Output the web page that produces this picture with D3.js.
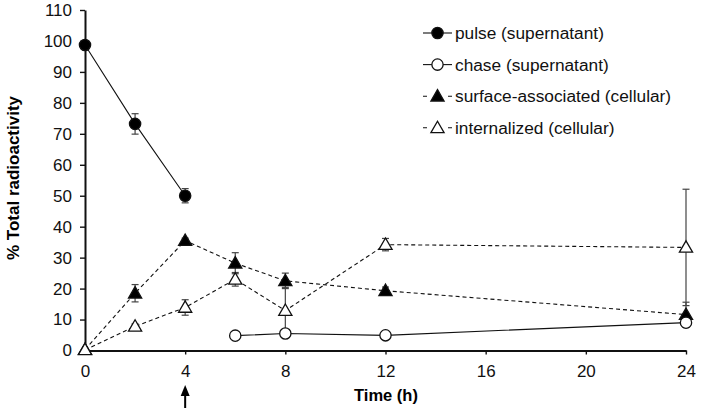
<!DOCTYPE html>
<html><head><meta charset="utf-8">
<script src="https://cdn.jsdelivr.net/npm/d3@7"></script>
<style>
body{margin:0;background:#fff;}
text{font-family:"Liberation Sans",Arial,sans-serif;}
</style></head>
<body><svg id="c" width="701" height="411"></svg>
<script>
const xTicks = [0,4,8,12,16,20,24];
const yTicks = [0,10,20,30,40,50,60,70,80,90,100,110];

const pulseT = [0,2,4];
const pulseV = [98.7,73.2,50.0];
const pulseErr = [1.0,3.3,2.3];

const chaseT = [6,8,12,24];
const chaseV = [4.8,5.5,4.9,9.0];
const chaseErr = [0.5,0.8,0.5,1.5];

const surfT = [0,2,4,6,8,12,24];
const surfV = [0.3,18.5,35.5,28.2,22.5,19.3,11.6];
const surfErr = [0.3,2.8,0.8,3.4,2.5,1.2,4.0];

const intT = [0,2,4,6,8,12,24];
const intV = [0.2,7.8,13.9,23.0,12.9,34.2,33.3];
const intErr = [0.3,0.8,2.5,2.2,7.5,2.0,18.8];

const legendLabels = ["pulse (supernatant)","chase (supernatant)","surface-associated (cellular)","internalized (cellular)"];

const svg = d3.select("#c");
const x = d3.scaleLinear().domain([0,24]).range([85,686]);
const y = d3.scaleLinear().domain([0,110]).range([350.5,10]);

const series = [
  {t:surfT,v:surfV,e:surfErr,shape:"tri",fill:"#000",dash:"4,3"},
  {t:intT,v:intV,e:intErr,shape:"tri",fill:"#fff",dash:"4,3"},
  {t:chaseT,v:chaseV,e:chaseErr,shape:"circ",fill:"#fff",dash:null},
  {t:pulseT,v:pulseV,e:pulseErr,shape:"circ",fill:"#000",dash:null}
];

// axes
const yAxis = d3.axisLeft(y).tickValues(yTicks).tickSize(5).tickSizeOuter(0).tickPadding(8);
const xAxis = d3.axisBottom(x).tickValues(xTicks).tickSize(4).tickSizeOuter(0).tickPadding(10);
const ga = svg.append("g").attr("transform","translate(85,0)").call(yAxis);
const gx = svg.append("g").attr("transform","translate(0,350.5)").call(xAxis);
[ga,gx].forEach(g=>{
  g.select(".domain").attr("stroke","#111").attr("stroke-width",2);
  g.selectAll(".tick line").attr("stroke","#111").attr("stroke-width",1.4);
  g.selectAll(".tick text").attr("font-size",17).attr("fill","#111")
   .attr("font-family","'Liberation Sans',Arial,sans-serif");
});

svg.append("text").attr("x",386).attr("y",401).attr("text-anchor","middle")
  .attr("font-size",16.5).attr("font-weight","bold").text("Time (h)");
svg.append("text").attr("transform","translate(19,178) rotate(-90)").attr("text-anchor","middle")
  .attr("font-size",17).attr("font-weight","bold").text("% Total radioactivity");

// arrow under 4
svg.append("line").attr("x1",x(4)).attr("x2",x(4)).attr("y1",394).attr("y2",408)
  .attr("stroke","#000").attr("stroke-width",2);
svg.append("path").attr("d",d3.line()([[x(4)-4.5,396],[x(4),385],[x(4)+4.5,396]])+"Z").attr("fill","#000");

const tri = d3.symbol().type(d3.symbolTriangle).size(75);
const circ = d3.symbol().type(d3.symbolCircle).size(100);

// lines
series.forEach(s=>{
  const pts = s.t.map((t,i)=>[x(t),y(s.v[i])]);
  svg.append("path").attr("d",d3.line()(pts)).attr("fill","none")
    .attr("stroke","#111").attr("stroke-width",1.1)
    .attr("stroke-dasharray",s.dash);
});
// error bars
series.forEach(s=>{
  s.t.forEach((t,i)=>{
    const cx=x(t), y1=y(s.v[i]+s.e[i]), y2=y(s.v[i]-s.e[i]);
    const g=svg.append("g").attr("stroke","#444").attr("stroke-width",1.2);
    g.append("line").attr("x1",cx).attr("x2",cx).attr("y1",y1).attr("y2",y2);
    g.append("line").attr("x1",cx-3.5).attr("x2",cx+3.5).attr("y1",y1).attr("y2",y1);
    g.append("line").attr("x1",cx-3.5).attr("x2",cx+3.5).attr("y1",y2).attr("y2",y2);
  });
});
// markers
series.forEach(s=>{
  s.t.forEach((t,i)=>{
    svg.append("path").attr("d",s.shape==="tri"?tri():circ())
      .attr("transform",`translate(${x(t)},${y(s.v[i])+(s.shape==="tri"?1:0)})`)
      .attr("fill",s.fill).attr("stroke","#111").attr("stroke-width",1.3);
  });
});

// legend
const legOrder = [3,2,0,1];
legendLabels.forEach((lab,i)=>{
  const s = series[legOrder[i]];
  const yy = 33 + i*31.6;
  svg.append("line").attr("x1",423).attr("x2",452).attr("y1",yy).attr("y2",yy)
    .attr("stroke","#111").attr("stroke-width",1.1)
    .attr("stroke-dasharray",s.dash?"4,21":null);
  svg.append("path").attr("d",s.shape==="tri"?tri():circ())
    .attr("transform",`translate(437.5,${yy+(s.shape==="tri"?1:0)})`)
    .attr("fill",s.fill).attr("stroke","#111").attr("stroke-width",1.3);
  svg.append("text").attr("x",455).attr("y",yy+6).attr("font-size",17.3).attr("fill","#111").text(lab);
});
</script></body></html>
